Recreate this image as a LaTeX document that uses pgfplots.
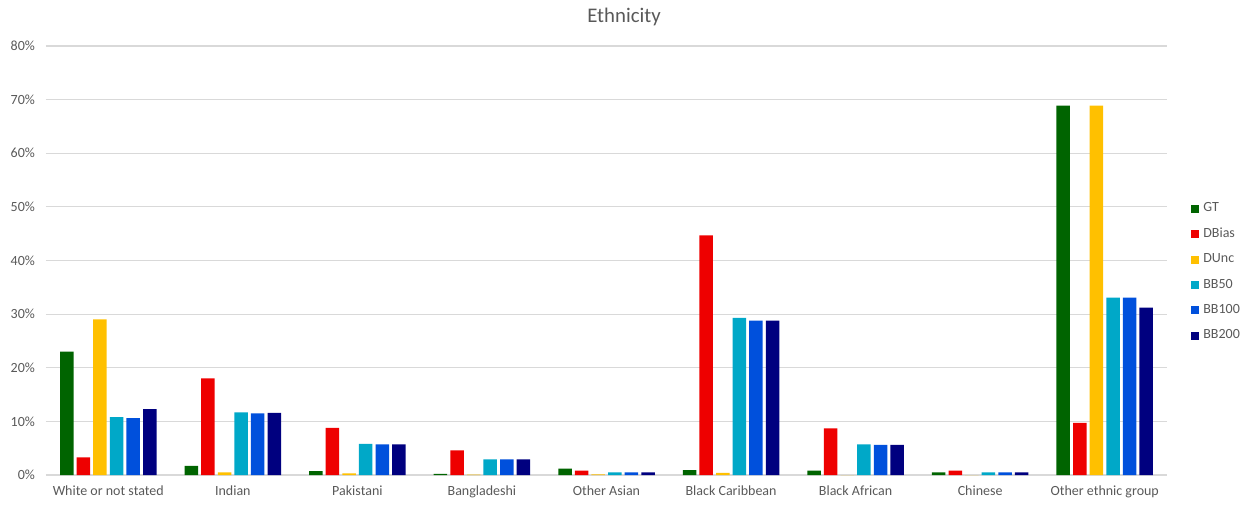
\documentclass[border=0pt]{standalone}
\usepackage{pgfplots}
\usepackage{pgfplotstable}
\usepackage{fontspec}
\setmainfont{Carlito}
\pgfplotsset{compat=1.18}
\definecolor{txt}{HTML}{595959}
\definecolor{gridc}{HTML}{D9D9D9}
\definecolor{cGT}{HTML}{006400}
\definecolor{cDB}{HTML}{EE0000}
\definecolor{cDU}{HTML}{FFC000}
\definecolor{cB50}{HTML}{00A8C8}
\definecolor{cB100}{HTML}{0050DC}
\definecolor{cB200}{HTML}{00007F}
\pgfplotstableread{
x GT DBias DUnc BB50 BB100 BB200
0 23.0 3.3 29.0 10.8 10.6 12.3
1 1.7 18.0 0.5 11.7 11.5 11.6
2 0.7 8.8 0.3 5.8 5.7 5.7
3 0.2 4.6 0.05 2.9 2.9 2.9
4 1.2 0.8 0.1 0.5 0.5 0.5
5 0.9 44.7 0.4 29.3 28.8 28.8
6 0.8 8.7 0.0 5.7 5.6 5.6
7 0.5 0.8 0.0 0.5 0.5 0.5
8 68.9 9.7 68.9 33.1 33.1 31.2
}\data
\begin{document}
\begin{tikzpicture}
\path[use as bounding box] (0,0) rectangle (623.5pt,252pt);
\node[font=\fontsize{10.4}{12}\selectfont, text=txt] at (312pt,243.5pt) {Ethnicity};
\begin{axis}[
  at={(23pt,14.5pt)}, anchor=south west,
  scale only axis, width=560.5pt, height=214.5pt,
  ybar=1.55pt, bar width=6.75pt,
  xmin=-0.5, xmax=8.5, ymin=0, ymax=80,
  xtick=data,
  xticklabels={White or not stated,Indian,Pakistani,Bangladeshi,Other Asian,Black Caribbean,Black African,Chinese,Other ethnic group},
  ytick={0,10,...,80},
  yticklabel={\pgfmathprintnumber{\tick}\%},
  /pgf/number format/assume math mode=true,
  ticklabel style={font=\fontsize{7}{8}\selectfont, text=txt},
  major tick length=0pt,
  ymajorgrids, grid style={gridc, line width=0.6pt},
  axis x line*=bottom, axis y line*=left,
  x axis line style={gridc, line width=0.6pt, -},
  y axis line style={draw=none},
  xticklabel style={yshift=-2pt},
  yticklabel style={xshift=-2pt},
  legend style={at={(1.016,0.654)}, anchor=north west, draw=none, fill=none,
    font=\fontsize{7}{8}\selectfont, text=txt, row sep=2.6pt, cells={anchor=west}},
  legend image code/.code={\fill[#1] (0pt,-2pt) rectangle (4pt,2pt);},
]
\addplot[fill=cGT, draw=none] table[x=x,y=GT]{\data};
\addplot[fill=cDB, draw=none] table[x=x,y=DBias]{\data};
\addplot[fill=cDU, draw=none] table[x=x,y=DUnc]{\data};
\addplot[fill=cB50, draw=none] table[x=x,y=BB50]{\data};
\addplot[fill=cB100, draw=none] table[x=x,y=BB100]{\data};
\addplot[fill=cB200, draw=none] table[x=x,y=BB200]{\data};
\legend{GT,DBias,DUnc,BB50,BB100,BB200}
\end{axis}
\end{tikzpicture}
\end{document}
